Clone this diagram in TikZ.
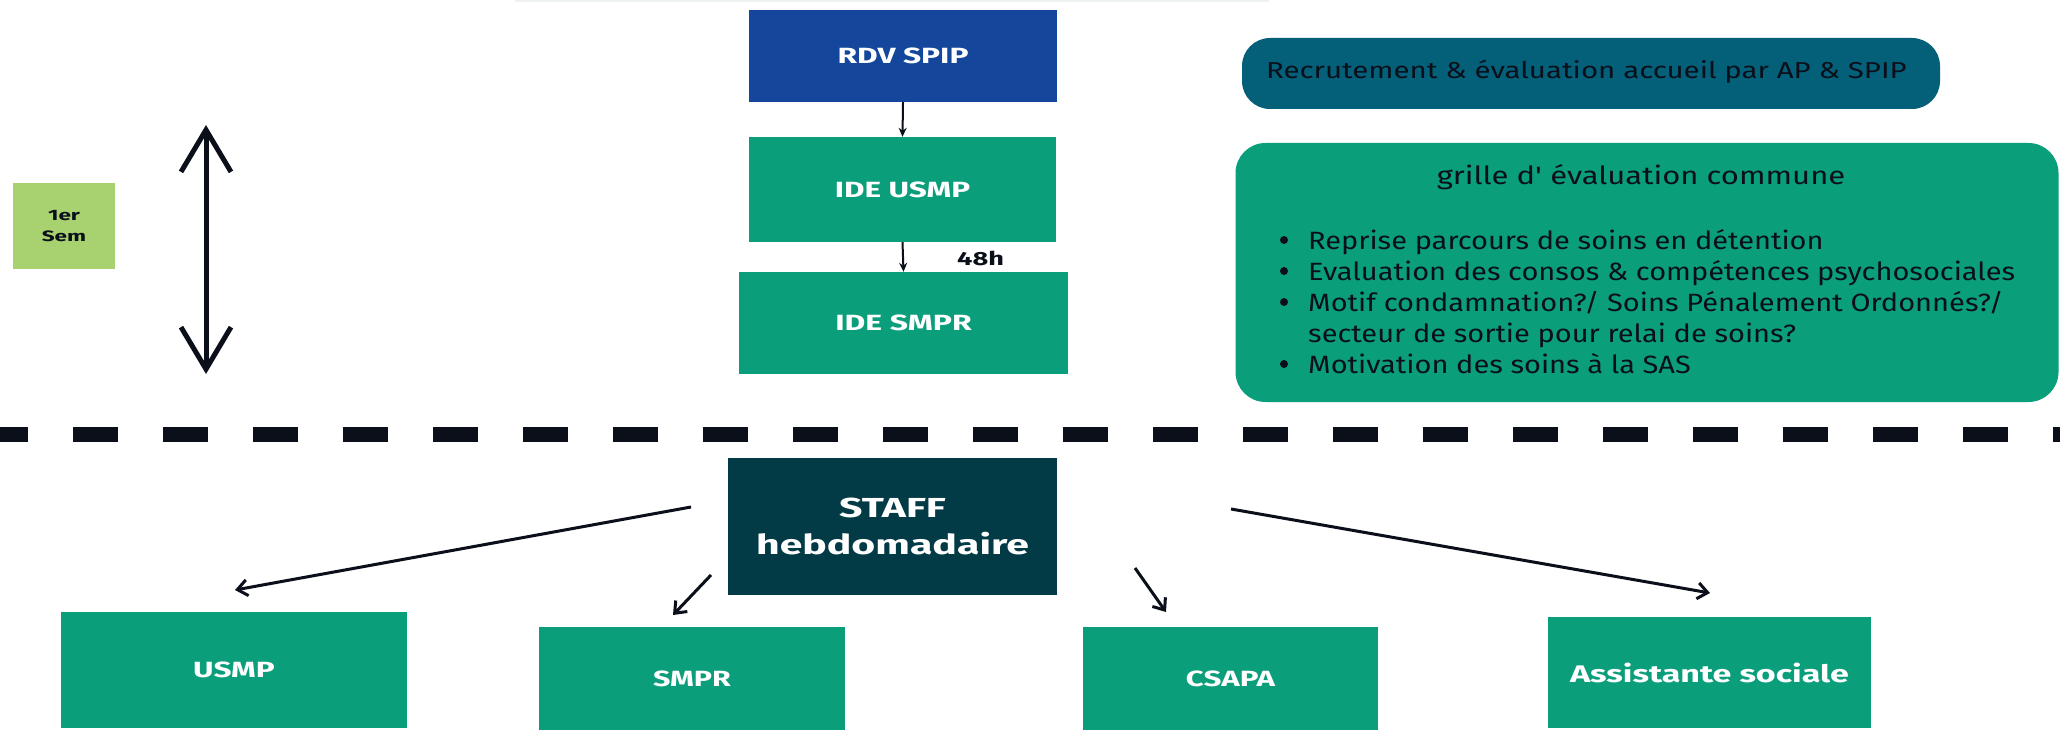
\documentclass[tikz,border=0pt]{standalone}
\usepackage{fontspec}
\usepackage{graphicx}
\setmainfont{Fira Sans}
\usetikzlibrary{arrows.meta}
\definecolor{teal}{HTML}{0B9E7B}
\definecolor{rdvblue}{HTML}{14479B}
\definecolor{recr}{HTML}{045F78}
\definecolor{staffc}{HTML}{023A45}
\definecolor{lime}{HTML}{A8D16F}
\definecolor{ink}{HTML}{0A0F1A}
\definecolor{faint}{HTML}{EEF2F2}
\newcommand\hsx[2]{\scalebox{#1}[1]{#2}}
\begin{document}
\begin{tikzpicture}[x=1pt,y=-1pt,
  box/.style={inner sep=0pt, text=white, font=\bfseries\fontsize{22}{26}\selectfont, align=center},
  darktext/.style={inner sep=0pt, text=ink, font=\fontsize{25}{30}\selectfont},
  small/.style={-{Stealth[length=9pt,width=8pt]}, line width=2pt, ink},
  big/.style={-{Straight Barb[length=10pt,width=16pt]}, line width=3pt, ink}]
\useasboundingbox (0,0) rectangle (2060,730);
\fill[white] (0,0) rectangle (2060,730);
% faint top line
\coordinate (ta) at (515,1);
\coordinate (tb) at (1269,1);
\draw[faint, line width=2pt] (ta) -- (tb);
% top column
\node[box, fill=rdvblue, minimum width=308pt, minimum height=92pt] (rdv) at (903,56) {\hsx{1.44}{RDV SPIP}};
\node[box, fill=teal, minimum width=307pt, minimum height=105pt] (ideusmp) at (902.5,189.5) {\hsx{1.43}{IDE USMP}};
\node[box, fill=teal, minimum width=329pt, minimum height=102pt] (idesmpr) at (903.5,323) {\hsx{1.45}{IDE SMPR}};
\draw[small] (rdv.south) -- (ideusmp.north);
\draw[small] (ideusmp.south) -- (idesmpr.north);
\node[inner sep=0pt, anchor=base west, text=ink, font=\bfseries\fontsize{19}{22}\selectfont] (h48) at (957,265) {\hsx{1.43}{48h}};
% semester
\node[inner sep=0pt, fill=lime, minimum width=102pt, minimum height=86pt, align=center, text=ink, font=\bfseries\fontsize{15}{21}\selectfont] (sem) at (64,226) {\hsx{1.5}{1er}\\\hsx{1.5}{Sem}};
\coordinate (da) at (206,125);
\coordinate (db) at (206,374);
\draw[{Straight Barb[length=42pt,width=50pt]}-{Straight Barb[length=42pt,width=50pt]}, line width=5pt, ink] (da) -- (db);
% right boxes
\node[fill=recr, rounded corners=28pt, minimum width=698pt, minimum height=71pt, inner sep=0pt] (recr) at (1591,73.5) {};
\node[darktext, anchor=base west, font=\fontsize{23}{27}\selectfont] (recrt) at (1266,79) {\hsx{1.28}{Recrutement \& évaluation accueil par AP \& SPIP}};
\node[fill=teal, rounded corners=30pt, minimum width=823pt, minimum height=259pt, inner sep=0pt] (grille) at (1647,272.5) {};
\node[darktext, anchor=base] (gt) at (1641,185) {\hsx{1.24}{grille d\textquotesingle\ évaluation commune}};
\foreach \y/\t [count=\i] in {249/{Reprise parcours de soins en détention},
  280/{Evaluation des consos \& compétences psychosociales},
  311/{Motif condamnation?/ Soins Pénalement Ordonnés?/},
  373/{Motivation des soins à la SAS}} {
  \node[darktext, anchor=base west] (b\i) at (1308,\y) {\hsx{1.16}{\t}};
  \fill[ink] (1284,\y-9) circle (4pt);
}
\node[darktext, anchor=base west] (b3b) at (1308,342) {\hsx{1.16}{secteur de sortie pour relai de soins?}};
% dashed separator
\coordinate (sa) at (-17,434.5);
\coordinate (sb) at (2080,434.5);
\draw[ink, line width=15pt, dash pattern=on 45pt off 45pt] (sa) -- (sb);
% staff
\node[box, fill=staffc, minimum width=329pt, minimum height=137pt, font=\bfseries\fontsize{27.5}{37}\selectfont] (staff) at (892.5,526.5) {\hsx{1.49}{STAFF}\\\hsx{1.49}{hebdomadaire}};
\node[box, fill=teal, minimum width=346pt, minimum height=116pt] (usmp) at (234,670) {\hsx{1.43}{USMP}};
\node[box, fill=teal, minimum width=306pt, minimum height=103pt] (smpr) at (692,678.5) {\hsx{1.38}{SMPR}};
\node[box, fill=teal, minimum width=295pt, minimum height=104pt] (csapa) at (1230.5,679) {\hsx{1.42}{CSAPA}};
\node[box, fill=teal, minimum width=323pt, minimum height=111pt, font=\bfseries\fontsize{24}{28}\selectfont] (assist) at (1709.5,672.5) {\hsx{1.42}{Assistante sociale}};
\coordinate (s1) at (691,507);
\coordinate (e1) at (235,590);
\coordinate (s2) at (711,575);
\coordinate (e2) at (673,615);
\coordinate (s3) at (1135,568);
\coordinate (e3) at (1166,612);
\coordinate (s4) at (1231,509);
\coordinate (e4) at (1710,593);
\draw[big] (s1) -- (e1);
\draw[big] (s2) -- (e2);
\draw[big] (s3) -- (e3);
\draw[big] (s4) -- (e4);
\end{tikzpicture}
\end{document}
